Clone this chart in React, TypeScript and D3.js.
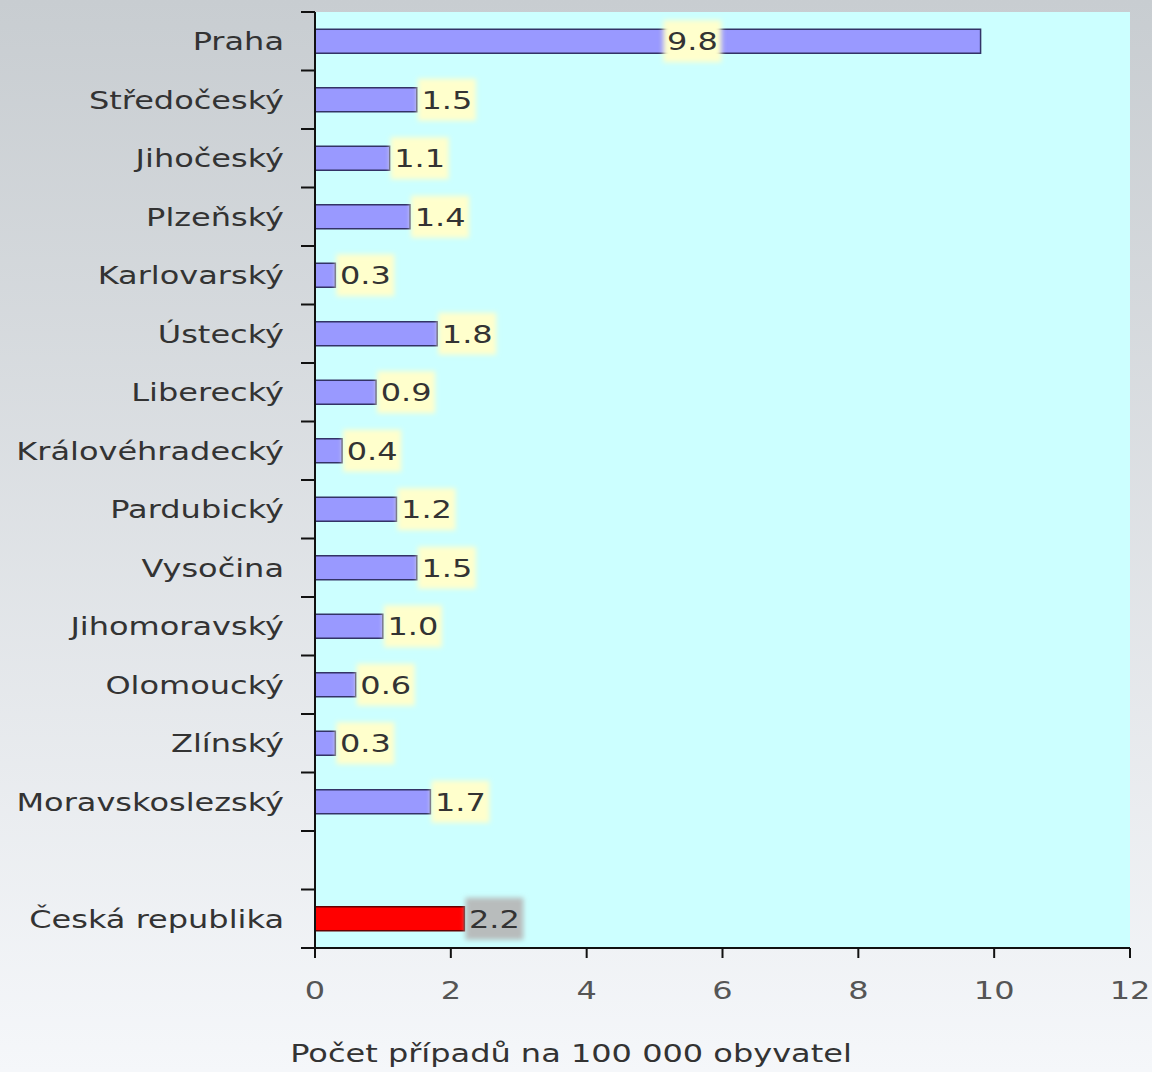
import React from "react";
import * as d3 from "d3";

const regions = [
  "Praha", "Středočeský", "Jihočeský", "Plzeňský", "Karlovarský", "Ústecký", "Liberecký",
  "Královéhradecký", "Pardubický", "Vysočina", "Jihomoravský", "Olomoucký", "Zlínský",
  "Moravskoslezský", "", "Česká republika",
];
const values: (number | null)[] = [9.8, 1.5, 1.1, 1.4, 0.3, 1.8, 0.9, 0.4, 1.2, 1.5, 1.0, 0.6, 0.3, 1.7, null, 2.2];
const xTicks = [0, 2, 4, 6, 8, 10, 12];
const xTitle = "Počet případů na 100 000 obyvatel";

const W = 1152, H = 1072;
const left = 315, right = 1130, top = 12, bottom = 948;
const FS = 25;
const SX = 1.28;

function T(props: { x: number; y: number; anchor?: string; fill?: string; size?: number; children: React.ReactNode }) {
  const { x, y, anchor = "start", fill = "#333", size = FS, children } = props;
  return (
    <text transform={`translate(${x},${y}) scale(${SX},1)`} dy="0.36em" textAnchor={anchor} fontSize={size} fill={fill}>
      {children}
    </text>
  );
}

export default function App() {
  const x = d3.scaleLinear().domain([0, 12]).range([left, right]);
  const y = d3.scaleBand<number>().domain(regions.map((_, i) => i)).range([top, bottom]).paddingInner(0.59).paddingOuter(0.295);
  const yb = d3.scaleBand<number>().domain(regions.map((_, i) => i)).range([top, bottom]);
  const bw = y.bandwidth();
  const font = "'DejaVu Sans', Verdana, sans-serif";
  const boundaries = d3.range(regions.length + 1).map((i) => top + i * yb.step());
  return (
    <svg width={W} height={H} style={{ position: "absolute", left: 0, top: 0 }} fontFamily={font}>
      <defs>
        <linearGradient id="bg" x1="0" y1="0" x2="0" y2="1">
          <stop offset="0" stopColor="#c8cdd1" />
          <stop offset="1" stopColor="#f5f7fa" />
        </linearGradient>
        <filter id="blur" x="-20%" y="-20%" width="140%" height="140%">
          <feGaussianBlur stdDeviation="2.5" />
        </filter>
      </defs>
      <rect x={0} y={0} width={W} height={H} fill="url(#bg)" />
      <rect x={left} y={top} width={right - left} height={bottom - top} fill="#ccffff" />
      {regions.map((r, i) => {
        const v = values[i];
        if (v == null) return null;
        const isTotal = i === regions.length - 1;
        return (
          <rect key={i} x={x(0)} y={y(i)} width={x(v) - x(0)} height={bw}
            fill={isTotal ? "#ff0000" : "#9999ff"} stroke={isTotal ? "#660000" : "#333366"} strokeWidth={1.5} />
        );
      })}
      {regions.map((r, i) => {
        const v = values[i];
        if (v == null) return null;
        const isTotal = i === regions.length - 1;
        const cy = (y(i) as number) + bw / 2;
        const label = v.toFixed(1);
        const inside = v > 5;
        const boxW = 58;
        const bx = inside ? x(v * 0.567) - boxW / 2 : x(v) + 1;
        return (
          <g key={"l" + i}>
            <rect x={bx} y={cy - 21} width={boxW} height={42} fill={isTotal ? "#b8bcbc" : "#ffffcc"} filter="url(#blur)" />
            <T x={bx + boxW / 2} y={cy} anchor="middle" fill="#333">{label}</T>
          </g>
        );
      })}
      {/* y axis */}
      <line x1={left} x2={left} y1={top} y2={bottom} stroke="#111" strokeWidth={2} />
      {boundaries.map((b, i) => (
        <line key={"t" + i} x1={left - 14} x2={left} y1={b} y2={b} stroke="#111" strokeWidth={2} />
      ))}
      {regions.map((r, i) => (
        <T key={"y" + i} x={284} y={(yb(i) as number) + yb.bandwidth() / 2} anchor="end" fill="#333">{r}</T>
      ))}
      {/* x axis */}
      <line x1={left - 14} x2={right} y1={bottom} y2={bottom} stroke="#111" strokeWidth={2} />
      {xTicks.map((t) => (
        <g key={"x" + t}>
          <line x1={x(t)} x2={x(t)} y1={bottom} y2={bottom + 10} stroke="#111" strokeWidth={2} />
          <T x={x(t)} y={990} anchor="middle" fill="#555">{t}</T>
        </g>
      ))}
      <T x={571} y={1053} anchor="middle" fill="#333">{xTitle}</T>
    </svg>
  );
}
